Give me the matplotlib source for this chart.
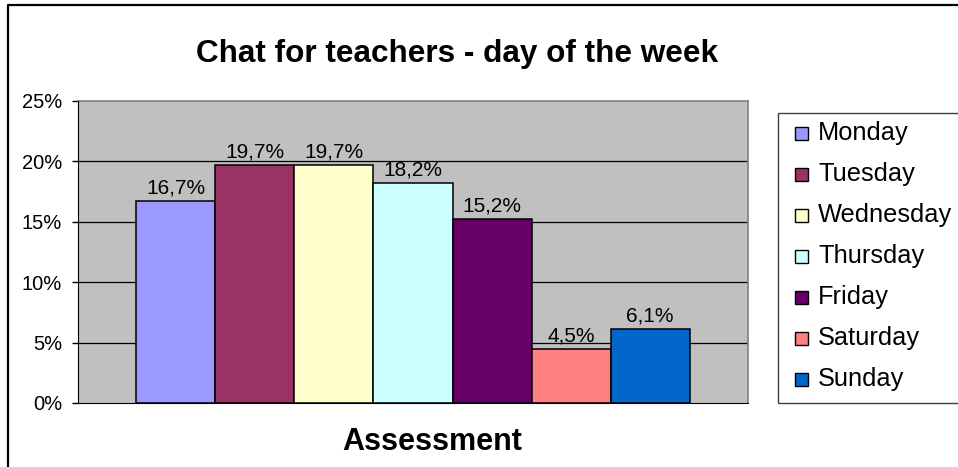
import matplotlib
matplotlib.use('Agg')
import matplotlib.pyplot as plt
from matplotlib.patches import Rectangle
from matplotlib.lines import Line2D

plt.rcParams['font.family'] = ['Liberation Sans', 'DejaVu Sans']

# data
days = ['Monday', 'Tuesday', 'Wednesday', 'Thursday', 'Friday', 'Saturday', 'Sunday']
values = [16.7, 19.7, 19.7, 18.2, 15.2, 4.5, 6.1]
colors = ['#9999FF', '#993366', '#FFFFCC', '#CCFFFF', '#660066', '#FF8080', '#0066CC']
yticks = [0, 5, 10, 15, 20, 25]

fig = plt.figure(figsize=(9.58, 4.67), dpi=100)
ax = fig.add_axes([78/958, 64/467, 670/958, 302/467])
ax.set_facecolor('#C0C0C0')

x = list(range(len(days)))
ax.bar(x, values, width=1.0, color=colors, edgecolor='black', linewidth=1.1, zorder=3)
for xi, v in zip(x, values):
    ax.annotate(('%.1f%%' % v).replace('.', ','), (xi, v), xytext=(0, 2.5),
                textcoords='offset points', ha='center', va='bottom', fontsize=15)

ax.set_xlim(-1.24, 7.24)
ax.set_ylim(0, 25)
ax.set_yticks(yticks)
ax.set_yticklabels(['%d%%' % t for t in yticks], fontsize=14.5)
ax.set_xticks([])
ax.tick_params(axis='y', direction='out', length=4.5, width=1, pad=7)
for t in yticks[1:-1]:
    ax.axhline(t, color='black', linewidth=0.9, zorder=1)

for s in ['top', 'right']:
    ax.spines[s].set_color('#808080')
    ax.spines[s].set_linewidth(1.2)
ax.spines['left'].set_color('black')
ax.spines['bottom'].set_color('black')
ax.spines['left'].set_zorder(4)
ax.spines['bottom'].set_zorder(4)

fig.text(457.5/958, 1 - 62/467, 'Chat for teachers - day of the week',
         ha='center', va='baseline', fontsize=22.7, fontweight='bold')
fig.text(432.5/958, 1 - 450/467, 'Assessment',
         ha='center', va='baseline', fontsize=22, fontweight='bold')

# outer chart border (only left and top visible)
fig.add_artist(Line2D([8/958, 8/958, 1.05], [-0.05, 1 - 5/467, 1 - 5/467],
                      color='black', linewidth=1.6, transform=fig.transFigure))

# legend box
fig.add_artist(Rectangle((778/958, 64/467), 0.3, (403 - 113)/467, transform=fig.transFigure,
                         facecolor='white', edgecolor='#404040', linewidth=1.0))
for i, (d, c) in enumerate(zip(days, colors)):
    yc = 133 + 41 * i
    fig.add_artist(Rectangle((795/958, 1 - (yc + 6.5)/467), 13/958, 13/467,
                             transform=fig.transFigure, facecolor=c,
                             edgecolor='black', linewidth=1.0))
    fig.text(818/958, 1 - yc/467, d, ha='left', va='center', fontsize=18.3)

fig.savefig('out.png', dpi=100)
